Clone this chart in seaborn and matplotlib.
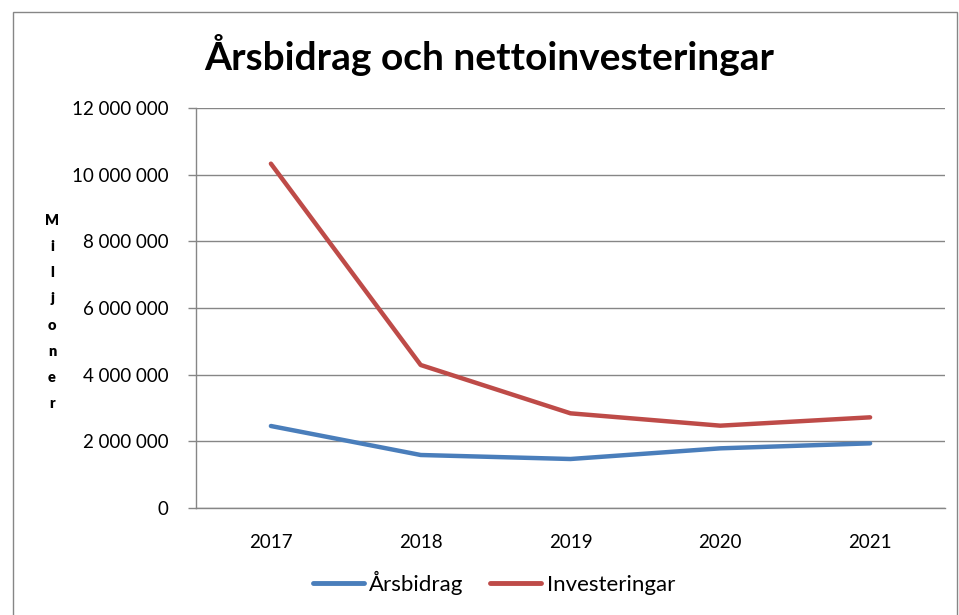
import matplotlib
matplotlib.use("Agg")
import matplotlib.pyplot as plt
import seaborn as sns
import pandas as pd
import numpy as np
from matplotlib.ticker import FuncFormatter, FixedLocator
from matplotlib.patches import Rectangle

years = ["2017", "2018", "2019", "2020", "2021"]
arsbidrag = [2460000, 1590000, 1470000, 1790000, 1940000]
investeringar = [10330000, 4290000, 2840000, 2470000, 2720000]
series_names = ["Årsbidrag", "Investeringar"]
colors = ["#4A7EBB", "#BE4B48"]

df = pd.DataFrame({
    "År": years * 2,
    "Värde": arsbidrag + investeringar,
    "Serie": [series_names[0]] * len(years) + [series_names[1]] * len(years),
})
df["x"] = df["År"].map({y: i for i, y in enumerate(years)})

sns.set_theme(style="white")
plt.rcParams['font.family'] = ['Lato', 'DejaVu Sans']
plt.rcParams['text.color'] = 'black'
plt.rcParams['axes.labelcolor'] = 'black'
plt.rcParams['xtick.color'] = 'black'
plt.rcParams['ytick.color'] = 'black'

W, H = 959, 615
fig = plt.figure(figsize=(W / 100, H / 100), dpi=100)
ax = fig.add_axes([196 / W, 1 - 508 / H, (945 - 196) / W, (508 - 108) / H])

sns.lineplot(data=df, x="x", y="Värde", hue="Serie", palette=colors,
             linewidth=3.2, ax=ax, legend=True, solid_capstyle="round")

ax.set_xlim(-0.5, len(years) - 0.5)
ax.set_ylim(0, 12000000)
ax.set_yticks(np.arange(0, 12000001, 2000000))
ax.yaxis.set_major_formatter(FuncFormatter(lambda v, p: f"{int(v):,}".replace(",", " ")))
ax.set_xticks(range(len(years)))
ax.set_xticklabels(years)
ax.xaxis.set_minor_locator(FixedLocator(np.arange(-0.5, len(years), 1.0)))
ax.tick_params(axis="x", which="major", length=0, pad=19, labelsize=13.5, labelcolor="black")
ax.tick_params(axis="x", which="minor", length=6, width=1, color="#868686", direction="out")
ax.tick_params(axis="y", which="major", length=6, width=1, color="#868686", direction="out",
               left=True, pad=14, labelsize=13.5, labelcolor="black")
ax.grid(axis="y", color="#868686", linewidth=1)
ax.set_axisbelow(True)
for s in ["top", "right"]:
    ax.spines[s].set_visible(False)
for s in ["left", "bottom"]:
    ax.spines[s].set_color("#868686")
    ax.spines[s].set_linewidth(1)
ax.set_xlabel("")
ax.set_ylabel("")

leg = ax.legend(loc="center", bbox_to_anchor=(494 / W, 1 - 583 / H), bbox_transform=fig.transFigure,
                ncol=2, frameon=False, fontsize=16, handlelength=2.3, columnspacing=1.2,
                handletextpad=0.25)
for line in leg.get_lines():
    line.set_linewidth(3.5)
for t in leg.get_texts():
    t.set_color("black")

fig.text(489 / W, 1 - 55 / H, "Årsbidrag och nettoinvesteringar", ha="center", va="center",
         fontsize=28, fontweight="bold", color="black")
fig.text(52 / W, 1 - 312 / H, "\n".join("Miljoner"), ha="center", va="center",
         fontsize=10.5, fontweight="heavy", linespacing=2.2, color="black")

fig.patches.append(Rectangle((13 / W, -0.1), (957 - 13) / W, (1 - 12 / H) + 0.1,
                             transform=fig.transFigure, fill=False, edgecolor="#868686",
                             linewidth=1))

fig.savefig("out.png", dpi=100, facecolor="white")
